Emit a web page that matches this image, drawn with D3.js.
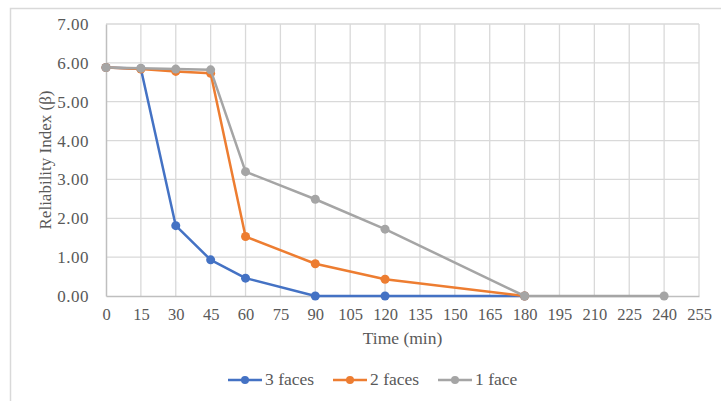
<!DOCTYPE html>
<html>
<head>
<meta charset="utf-8">
<script src="https://cdn.jsdelivr.net/npm/d3@7"></script>
<style>
html,body{margin:0;padding:0;background:#fff;}
svg{display:block;}
text{font-family:"Liberation Serif","Times New Roman",serif;fill:#595959;}
</style>
</head>
<body>
<svg id="chart" width="721" height="401"></svg>
<script>
// ---- data ----
const xTicks = [0,15,30,45,60,75,90,105,120,135,150,165,180,195,210,225,240,255];
const yTicks = [0,1,2,3,4,5,6,7];
const seriesNames = ["3 faces","2 faces","1 face"];
const seriesColors = ["#4472C4","#ED7D31","#A5A5A5"];
const timesThree = [0,15,30,45,60,90,120,180];
const valuesThree = [5.88,5.85,1.81,0.93,0.46,0,0,0];
const timesTwo = [0,15,30,45,60,90,120,180];
const valuesTwo = [5.88,5.84,5.78,5.73,1.53,0.83,0.43,0];
const timesOne = [0,15,30,45,60,90,120,180,240];
const valuesOne = [5.88,5.86,5.84,5.82,3.20,2.49,1.72,0,0];

const series = [
  {name: seriesNames[0], color: seriesColors[0], pts: timesThree.map((t,i)=>({x:t,y:valuesThree[i]}))},
  {name: seriesNames[1], color: seriesColors[1], pts: timesTwo.map((t,i)=>({x:t,y:valuesTwo[i]}))},
  {name: seriesNames[2], color: seriesColors[2], pts: timesOne.map((t,i)=>({x:t,y:valuesOne[i]}))}
];

const svg = d3.select("#chart");
const W = 721, H = 401;
const m = {left:106, right:W-699, top:24, bottom:H-296};
const FONT = "'Liberation Serif','Times New Roman',serif";

// chart area border
svg.append("rect").attr("x",10.5).attr("y",8.5).attr("width",W+20).attr("height",H+20)
  .attr("fill","none").attr("stroke","#d9d9d9").attr("stroke-width",1.5);

const x = d3.scaleLinear().domain([0,255]).range([m.left, W-m.right]);
const y = d3.scaleLinear().domain([0,7]).range([H-m.bottom, m.top]);

// gridlines
const g = svg.append("g");
g.selectAll(".vg").data(xTicks.slice(1)).join("line")
  .attr("x1",d=>x(d)).attr("x2",d=>x(d)).attr("y1",y(0)).attr("y2",y(7))
  .attr("stroke","#d9d9d9").attr("stroke-width",1.3);
g.selectAll(".hg").data(yTicks.slice(1)).join("line")
  .attr("x1",x(0)).attr("x2",x(255)).attr("y1",d=>y(d)).attr("y2",d=>y(d))
  .attr("stroke","#d9d9d9").attr("stroke-width",1.3);

// axes
const xAxis = svg.append("g").attr("transform",`translate(0,${y(0)})`)
  .call(d3.axisBottom(x).tickValues(xTicks).tickSize(0).tickPadding(12).tickFormat(d3.format("d")));
xAxis.select(".domain").attr("stroke","#bfbfbf").attr("stroke-width",1.5);
xAxis.selectAll("text").attr("font-size","16.5px").attr("fill","#595959")
  .style("font-family",FONT);

const yAxis = svg.append("g").attr("transform",`translate(${x(0)},0)`)
  .call(d3.axisLeft(y).tickValues(yTicks).tickSize(0).tickPadding(17).tickFormat(d3.format(".2f")));
yAxis.select(".domain").attr("stroke","#bfbfbf").attr("stroke-width",1.5);
yAxis.selectAll("text").attr("font-size","17px").attr("fill","#595959")
  .style("font-family",FONT).style("letter-spacing","0.5px");

// axis titles
svg.append("text").attr("x",(x(0)+x(255))/2).attr("y",344).attr("text-anchor","middle")
  .attr("font-size","17.5px").text("Time (min)");
svg.append("text").attr("transform",`translate(51,${(y(0)+y(7))/2}) rotate(-90)`)
  .attr("text-anchor","middle").attr("font-size","17px").text("Reliability Index (β)");

// lines and markers
const line = d3.line().x(d=>x(d.x)).y(d=>y(d.y));
series.forEach(s=>{
  const sg = svg.append("g");
  sg.append("path").datum(s.pts).attr("d",line).attr("fill","none")
    .attr("stroke",s.color).attr("stroke-width",2.5).attr("stroke-linejoin","round");
  sg.selectAll("circle").data(s.pts).join("circle")
    .attr("cx",d=>x(d.x)).attr("cy",d=>y(d.y)).attr("r",4.5).attr("fill",s.color);
});

// legend
const legendX = [228,333,438];
const leg = svg.append("g");
series.forEach((s,i)=>{
  const lx = legendX[i], ly = 380;
  leg.append("line").attr("x1",lx).attr("x2",lx+34).attr("y1",ly).attr("y2",ly)
    .attr("stroke",s.color).attr("stroke-width",2.5);
  leg.append("circle").attr("cx",lx+17).attr("cy",ly).attr("r",4).attr("fill",s.color);
  leg.append("text").attr("x",lx+37).attr("y",ly+5).attr("font-size","17.5px").text(s.name);
});
</script>
</body>
</html>
